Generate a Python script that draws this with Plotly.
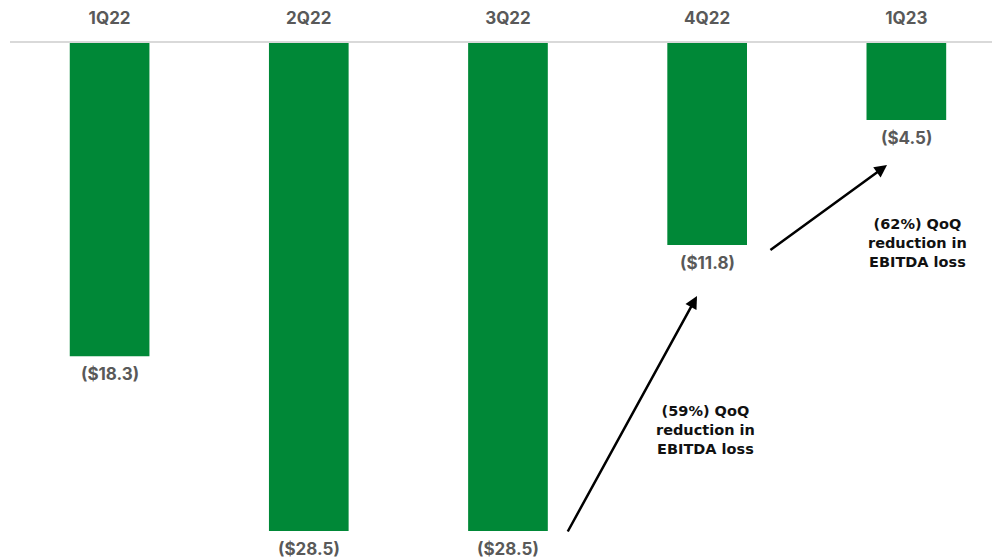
import plotly.graph_objects as go

quarters = ["1Q22", "2Q22", "3Q22", "4Q22", "1Q23"]
ebitda = [-18.3, -28.5, -28.5, -11.8, -4.5]
notes = ["(59%) QoQ<br>reduction in<br>EBITDA loss", "(62%) QoQ<br>reduction in<br>EBITDA loss"]

GREEN = "#008837"
GRAY = "#595959"
FONT = "Inter, 'Open Sans', sans-serif"
NOTE_FONT = "'DejaVu Sans', sans-serif"

fig = go.Figure()
fig.add_trace(go.Bar(
    x=list(range(len(quarters))), y=ebitda, width=0.4,
    marker=dict(color=GREEN, line=dict(width=0)),
    hoverinfo="skip",
))

# value labels under each bar
for i, v in enumerate(ebitda):
    fig.add_annotation(x=i, y=v, text=f"(${abs(v):.1f})", showarrow=False,
                       yanchor="top", yshift=-6,
                       font=dict(family=FONT, size=17, color=GRAY, weight=700))

# arrows
fig.add_annotation(x=2.949, y=-14.78, ax=2.296, ay=-28.62, axref="x", ayref="y",
                   xref="x", yref="y", text="", showarrow=True,
                   arrowhead=2, arrowsize=1, arrowwidth=2.5, arrowcolor="#000000")
fig.add_annotation(x=3.903, y=-7.13, ax=3.310, ay=-12.15, axref="x", ayref="y",
                   xref="x", yref="y", text="", showarrow=True,
                   arrowhead=2, arrowsize=1, arrowwidth=2.5, arrowcolor="#000000")

# notes
fig.add_annotation(x=2.994, y=-22.6, text=notes[0], showarrow=False,
                   font=dict(family=NOTE_FONT, size=14.5, color="#111111", weight=700))
fig.add_annotation(x=4.058, y=-11.68, text=notes[1], showarrow=False,
                   font=dict(family=NOTE_FONT, size=14.5, color="#111111", weight=700))

fig.update_layout(
    width=992, height=558,
    margin=dict(l=10, r=0, t=43, b=0),
    paper_bgcolor="white", plot_bgcolor="white",
    showlegend=False,
    xaxis=dict(
        range=[-0.5, 4.43], side="top",
        tickmode="array", tickvals=list(range(len(quarters))), ticktext=quarters,
        tickfont=dict(family=FONT, size=17, color=GRAY, weight=700),
        showgrid=False, zeroline=False,
        showline=True, linecolor="#d9d9d9", linewidth=2,
        ticks="", ticklabelstandoff=10,
    ),
    yaxis=dict(range=[-30.08, 0], visible=False, showgrid=False, zeroline=False),
)

fig.write_html("out.html")
